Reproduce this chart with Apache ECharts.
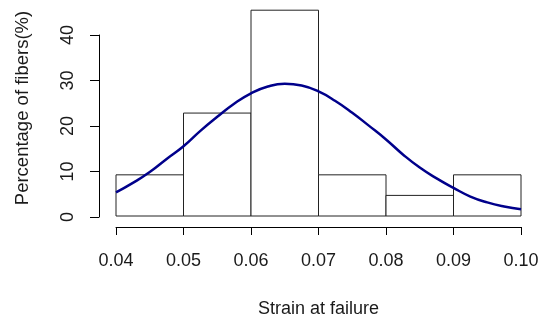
<!DOCTYPE html>
<html>
<head>
<meta charset="utf-8">
<script src="https://cdn.jsdelivr.net/npm/echarts@6/dist/echarts.min.js"></script>
<style>
  html, body { margin: 0; padding: 0; background: #fff; }
  #chart { width: 544px; height: 323px; }
</style>
</head>
<body>
<div id="chart"></div>
<script>
// Histogram bins (strain at failure) and share of fibers in each bin (%)
const binStarts = [0.04, 0.05, 0.06, 0.07, 0.08, 0.09];
const binEnds   = [0.05, 0.06, 0.07, 0.08, 0.09, 0.10];
const binPercent = [9.09, 22.73, 45.45, 9.09, 4.55, 9.09];

// Fitted density curve, scaled to percent per bin
const curveX = [0.040, 0.0425, 0.045, 0.0475, 0.050, 0.0525, 0.055, 0.0575, 0.060, 0.0625,
                0.065, 0.0675, 0.070, 0.0725, 0.075, 0.0775, 0.080, 0.0825, 0.085, 0.0875,
                0.090, 0.0925, 0.095, 0.0975, 0.100];
const curveY = [5.2, 7.3, 9.7, 12.6, 15.4, 18.8, 21.9, 24.8, 27.1, 28.6,
                29.2, 28.8, 27.5, 25.4, 22.8, 19.9, 16.9, 13.6, 10.7, 8.3,
                6.2, 4.3, 3.0, 2.1, 1.5];

// Axis ticks
const xTicks = ['0.04', '0.05', '0.06', '0.07', '0.08', '0.09', '0.10'];
const yTicks = [0, 10, 20, 30, 40];

const xTitle = 'Strain at failure';
const yTitle = 'Percentage of fibers(%)';

const chart = echarts.init(document.getElementById('chart'), null, { renderer: 'canvas' });

const textColor = '#1a1a1a';
const fontFamily = '"Liberation Sans", Arial, sans-serif';
const fontSize = 18;

const barData = binStarts.map((s, i) => [s, binEnds[i], binPercent[i]]);
const lineData = curveX.map((x, i) => [x, curveY[i]]);

const pxPerUnit = 182 / 40;
const plotBottom = 106;
const dataTop = 323 - plotBottom - 46 * pxPerUnit;

chart.setOption({
  animation: false,
  backgroundColor: '#ffffff',
  grid: [
    { left: 116, right: 23, top: dataTop, bottom: plotBottom },
    { left: 116, right: 23, top: 323 - plotBottom - 40 * pxPerUnit, bottom: plotBottom }
  ],
  graphic: [
    {
      type: 'text',
      x: 23,
      y: 108,
      rotation: Math.PI / 2,
      style: {
        text: yTitle,
        fill: textColor,
        font: '18.5px ' + fontFamily,
        align: 'center',
        verticalAlign: 'middle'
      }
    }
  ],
  xAxis: [
    {
      gridIndex: 0,
      type: 'value',
      min: 0.04,
      max: 0.10,
      interval: 0.01,
      offset: 11,
      axisLine: { show: true, onZero: false, lineStyle: { color: '#000', width: 1 } },
      axisTick: { show: true, length: 8, lineStyle: { color: '#000' } },
      splitLine: { show: false },
      axisLabel: {
        color: textColor, fontSize: fontSize, fontFamily: fontFamily, margin: 25,
        formatter: (v) => xTicks[Math.round((v - 0.04) / 0.01)] ?? ''
      },
      name: xTitle,
      nameLocation: 'middle',
      nameGap: 73,
      nameTextStyle: { color: textColor, fontSize: fontSize, fontFamily: fontFamily }
    },
    {
      gridIndex: 1, type: 'value', min: 0.04, max: 0.10, show: false
    }
  ],
  yAxis: [
    {
      gridIndex: 0, type: 'value', min: 0, max: 46, show: false
    },
    {
      gridIndex: 1,
      type: 'value',
      min: yTicks[0],
      max: yTicks[yTicks.length - 1],
      interval: 10,
      offset: 17,
      axisLine: { show: true, lineStyle: { color: '#000', width: 1 } },
      axisTick: { show: true, length: 9, lineStyle: { color: '#000' } },
      splitLine: { show: false },
      axisLabel: {
        color: textColor, fontSize: fontSize, fontFamily: fontFamily, rotate: 90, margin: 22
      }
    }
  ],
  series: [
    {
      type: 'custom',
      xAxisIndex: 0,
      yAxisIndex: 0,
      clip: false,
      data: barData,
      renderItem: function (params, api) {
        const p0 = api.coord([api.value(0), api.value(2)]);
        const p1 = api.coord([api.value(1), 0]);
        return {
          type: 'rect',
          shape: { x: p0[0], y: p0[1], width: p1[0] - p0[0], height: p1[1] - p0[1] },
          style: { fill: '#ffffff', stroke: '#222222', lineWidth: 1 }
        };
      },
      z: 1
    },
    {
      type: 'line',
      xAxisIndex: 0,
      yAxisIndex: 0,
      data: lineData,
      smooth: true,
      showSymbol: false,
      lineStyle: { color: '#00008B', width: 2.5 },
      z: 2
    }
  ]
});
</script>
</body>
</html>
